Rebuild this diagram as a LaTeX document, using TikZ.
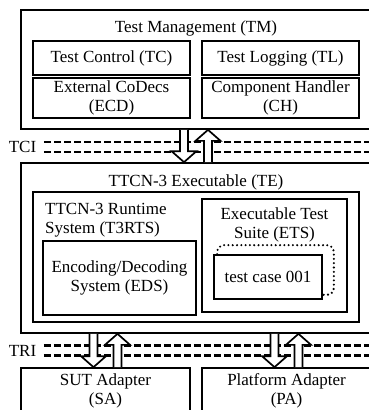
\documentclass[tikz,border=0pt]{standalone}
\usepackage{fontspec}
\setmainfont{Liberation Serif}
\usetikzlibrary{calc}

\begin{document}
\begin{tikzpicture}[x=1pt, y=-1pt, font=\fontsize{17}{19}\selectfont,
	box/.style={draw=black, line width=1.7pt, inner sep=0pt, align=center},
	lbl/.style={inner xsep=7.5pt, inner ysep=0pt},
	bus/.style={line width=2.2pt, dash pattern=on 7pt off 3pt},
	down iface/.style={draw=black, fill=white, line width=1.7pt,
		to path={($(\tikztostart)+(-4,0)$) -- ($(\tikztotarget)+(-4,-11)$) -- ($(\tikztotarget)+(-12.5,-11)$) -- (\tikztotarget)
			-- ($(\tikztotarget)+(12.5,-11)$) -- ($(\tikztotarget)+(4,-11)$) -- ($(\tikztostart)+(4,0)$)}},
	up iface/.style={draw=black, fill=white, line width=1.7pt,
		to path={($(\tikztostart)+(-4,0)$) -- ($(\tikztotarget)+(-4,11)$) -- ($(\tikztotarget)+(-12.5,11)$) -- (\tikztotarget)
			-- ($(\tikztotarget)+(12.5,11)$) -- ($(\tikztotarget)+(4,11)$) -- ($(\tikztostart)+(4,0)$)}},
	case outline/.style={line width=2.3pt, dash pattern=on 0pt off 4.3pt, line cap=round, rounded corners=7pt}]
	
	\clip (0,0) rectangle (369,410);
	
	% test management
	\node[box, minimum width=350, minimum height=119] (tm) at (196,69.5) {};
	\node (tmt) at (196,28) {Test Management (TM)};
	\node[box, minimum width=157, minimum height=34] (tc)  at (111.5,58) {Test Control (TC)};
	\node[box, minimum width=157, minimum height=34] (tl)  at (280.5,58) {Test Logging (TL)};
	\node[box, minimum width=157, minimum height=40] (ecd) at (111.5,98) {External CoDecs\\(ECD)};
	\node[box, minimum width=157, minimum height=40] (ch)  at (280.5,98) {Component Handler\\(CH)};
	
	% executable
	\node[box, minimum width=350, minimum height=170] (te) at (196,248) {};
	\node (tet) at (196,182) {TTCN-3 Executable (TE)};
	\node[box, minimum width=326, minimum height=130] (rts) at (196,257) {};
	\node[anchor=north west, inner sep=0pt, align=left] (rtst) at (45,203) {TTCN-3 Runtime\\System (T3RTS)};
	\node[box, minimum width=153, minimum height=74] (eds) at (119.5,278) {Encoding/Decoding\\System (EDS)};
	\node[box, minimum width=145, minimum height=113] (ets) at (274.5,255.5) {};
	\node[align=center] (etst) at (274.5,225) {Executable Test\\Suite (ETS)};
	\node[box, minimum width=108, minimum height=44] (case) at (268,277) {test case 001};
	\draw[case outline] ([xshift=4pt]case.north west) |- ([xshift=11pt,yshift=9pt]case.north east) |- ([yshift=5pt]case.south east);
	
	% adapters
	\node[box, minimum width=169, minimum height=46] (sa) at (105.5,391) {SUT Adapter\\(SA)};
	\node[box, minimum width=169, minimum height=46] (pa) at (286.5,391) {Platform Adapter\\(PA)};
	
	% interfaces
	\node[lbl] (tci) at (22.5,147) {TCI};
	\node[lbl] (tri) at (22.5,350.5) {TRI};
	\coordinate (tci end) at (tm.east |- tci.east);
	\coordinate (tri end) at (te.east |- tri.east);
	\draw[bus] ([yshift=5pt]tci.east) -- ([yshift=5pt]tci end);
	\draw[bus] ([yshift=-5pt]tci.east) -- ([yshift=-5pt]tci end);
	\draw[bus] ([yshift=5pt]tri.east) -- ([yshift=5pt]tri end);
	\draw[bus] ([yshift=-5pt]tri.east) -- ([yshift=-5pt]tri end);
	
	\draw[down iface] ([xshift=-12pt]tm.south) to ([xshift=-12pt]te.north);
	\draw[up iface]   ([xshift=12pt]te.north)  to ([xshift=12pt]tm.south);
	\draw[down iface] ([xshift=-12pt]sa.north |- te.south) to ([xshift=-12pt]sa.north);
	\draw[up iface]   ([xshift=12pt]sa.north)  to ([xshift=12pt]sa.north |- te.south);
	\draw[down iface] ([xshift=-12pt]pa.north |- te.south) to ([xshift=-12pt]pa.north);
	\draw[up iface]   ([xshift=12pt]pa.north)  to ([xshift=12pt]pa.north |- te.south);
	
\end{tikzpicture}
\end{document}
